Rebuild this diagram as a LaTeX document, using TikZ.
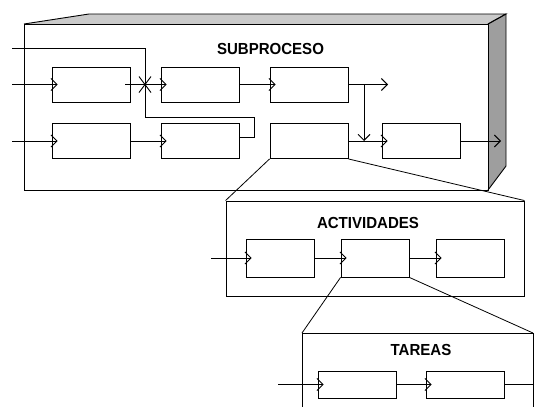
\documentclass[tikz,border=0pt]{standalone}
\usepackage{fontspec}
\setmainfont{Liberation Sans}
\usetikzlibrary{arrows.meta}
\definecolor{topface}{HTML}{CACACA}
\definecolor{sideface}{HTML}{9E9E9E}
\begin{document}
\begin{tikzpicture}[x=1pt,y=-1pt,
  line width=0.9pt, line join=miter,
  proc/.style={draw, fill=white, minimum width=78pt, minimum height=35pt, inner sep=0pt},
  act/.style={draw, fill=white, minimum width=68pt, minimum height=38pt, inner sep=0pt},
  task/.style={draw, fill=white, minimum width=78pt, minimum height=27pt, inner sep=0pt},
  title/.style={font=\fontsize{16}{16}\selectfont\bfseries, inner sep=0pt, anchor=base, xscale=0.94},
  flow/.style={-{Straight Barb[length=6pt,width=12pt,line width=0.9pt]}},
  zoomline/.style={line width=0.8pt}]
\useasboundingbox (0,0) rectangle (536,407);
\clip (0,0) rectangle (536,407);

% ---- SUBPROCESO: three-dimensional block ----
\fill[topface] (24,24) -- (89,14) -- (506,14) -- (488,24) -- cycle;
\fill[sideface] (488,24) -- (506,14) -- (506,166) -- (488,190) -- cycle;
\draw (24,24) -- (89,14) -- (506,14) -- (488,24);
\draw (488,24) -- (506,14) -- (506,166) -- (488,190);
\draw (24,24) rectangle (488,190);
\node[title] (tsub) at (270.5,54) {SUBPROCESO};

\node[proc] (a1) at (91,84.5) {};
\node[proc] (a2) at (200,84.5) {};
\node[proc] (a3) at (309,84.5) {};
\node[proc] (b1) at (91,141) {};
\node[proc] (b2) at (200,141) {};
\node[proc] (b3) at (309,141) {};
\node[proc] (b4) at (421,141) {};

\coordinate (ina) at (12,84.5);
\coordinate (inb) at (12,141);
\coordinate (inf) at (12,48);
\coordinate (outa) at (388,84.5);
\coordinate (outb) at (501,141);
\coordinate (split) at (364,84.5);
\coordinate (join) at (364,141);
\coordinate (cross) at (145,84.5);

% feedback line leaving b2 and running back to the left edge
\draw ([yshift=4pt]b2.east) -- (254,137) -- (254,117) -- (145,117) -- (145,48) -- (inf);
% crossing mark on the a1 -> a2 link
\draw ([xshift=-6pt,yshift=8pt]cross) -- ([xshift=6pt,yshift=-8pt]cross);
\draw ([xshift=-6pt,yshift=-8pt]cross) -- ([xshift=6pt,yshift=8pt]cross);

\draw[flow] (ina) -- ([xshift=6pt]a1.west);
\draw[flow] ([xshift=-5pt]a1.east) -- ([xshift=6pt]a2.west);
\draw[flow] (a2.east) -- ([xshift=6pt]a3.west);
\draw[flow] (a3.east) -- (outa);
\draw[flow] (split) -- (join);
\draw[flow] (inb) -- ([xshift=6pt]b1.west);
\draw[flow] (b1.east) -- ([xshift=6pt]b2.west);
\draw[flow] (b3.east) -- ([xshift=6pt]b4.west);
\draw[flow] (b4.east) -- (outb);

% ---- ACTIVIDADES ----
\node[draw, minimum width=298pt, minimum height=95pt, inner sep=0pt] (actbox) at (375,248.5) {};
\draw[zoomline] (b3.south west) -- (actbox.north west);
\draw[zoomline] (b3.south east) -- (actbox.north east);
\node[title] (tact) at (368,228) {ACTIVIDADES};

\node[act] (c1) at (280,258) {};
\node[act] (c2) at (375,258) {};
\node[act] (c3) at (470,258) {};
\coordinate (inc) at (211,258);
\draw[flow] (inc) -- ([xshift=6pt]c1.west);
\draw[flow] (c1.east) -- ([xshift=6pt]c2.west);
\draw[flow] (c2.east) -- ([xshift=6pt]c3.west);

% ---- TAREAS (continues past the lower edge) ----
\coordinate (tl) at (302,333);
\coordinate (tr) at (533,333);
\draw[zoomline] (c2.south west) -- (tl);
\draw[zoomline] (c2.south east) -- (tr);
\draw (302,412) -- (tl) -- (tr) -- (533,412);
\node[title] (ttar) at (421,355) {TAREAS};

\node[task] (t1) at (357,384.5) {};
\node[task] (t2) at (465,384.5) {};
\coordinate (int) at (278,384.5);
\coordinate (outt) at (533,384.5);
\draw[flow] (int) -- ([xshift=6pt]t1.west);
\draw[flow] (t1.east) -- ([xshift=6pt]t2.west);
\draw (t2.east) -- (outt);
\end{tikzpicture}
\end{document}
